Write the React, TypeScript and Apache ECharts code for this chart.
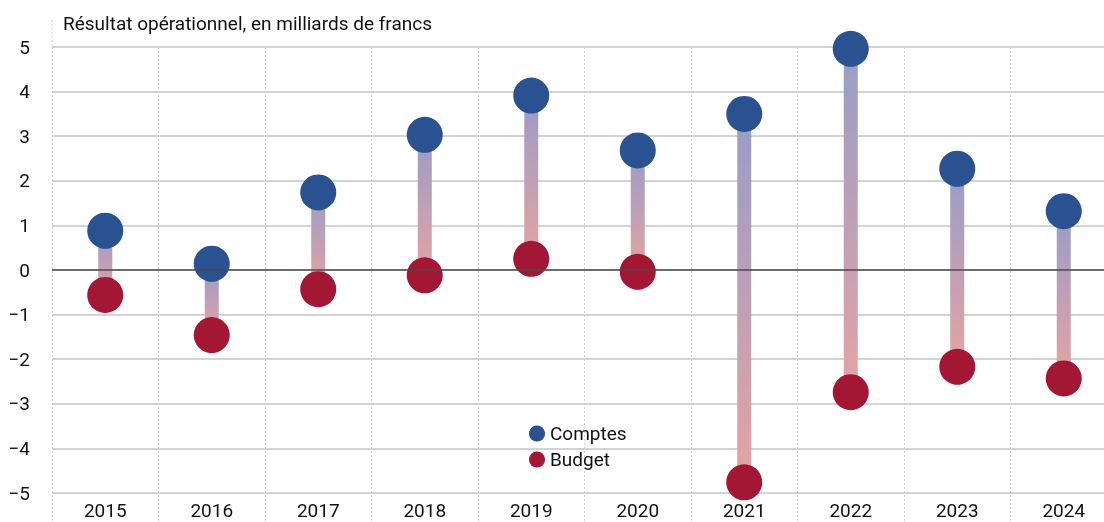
import React, { useEffect, useRef } from "react";
import * as echarts from "echarts";

const years = ["2015", "2016", "2017", "2018", "2019", "2020", "2021", "2022", "2023", "2024"];
const comptes = [0.88, 0.14, 1.74, 3.03, 3.91, 2.68, 3.5, 4.96, 2.27, 1.32];
const budget = [-0.56, -1.46, -0.43, -0.12, 0.25, -0.04, -4.76, -2.74, -2.17, -2.43];
const titleText = "Résultat opérationnel, en milliards de francs";

const FONT = "Roboto, 'Noto Sans', sans-serif";
const TXT = "#111111";

export default function App() {
  const ref = useRef<HTMLDivElement>(null);
  useEffect(() => {
    if (!ref.current) return;
    const chart = echarts.init(ref.current, undefined, { renderer: "svg" });
    const rangeData = years.map((_, i) => [i, comptes[i], budget[i]]);
    chart.setOption({
      animation: false,
      textStyle: { fontFamily: FONT },
      title: {
        text: titleText,
        left: 58,
        top: 9,
        textStyle: { fontFamily: FONT, fontSize: 19, fontWeight: "normal", color: TXT },
      },
      legend: {
        orient: "vertical",
        left: 524,
        top: 419,
        itemGap: 7,
        itemWidth: 16,
        itemHeight: 16,
        icon: "circle",
        data: ["Comptes", "Budget"],
        textStyle: { fontFamily: FONT, fontSize: 19, color: TXT },
      },
      grid: [
        { left: 52, right: 3, top: 47, bottom: 29 },
        { left: 52, right: 3, top: 47, bottom: 0 },
      ],
      xAxis: [
        {
          type: "category",
          gridIndex: 0,
          data: years,
          axisLine: { show: false },
          axisTick: { show: false },
          splitLine: { show: false },
          axisLabel: { fontFamily: FONT, fontSize: 19, color: TXT, margin: 8 },
        },
        {
          type: "category",
          gridIndex: 1,
          data: years,
          axisLine: { show: false },
          axisTick: { show: false },
          axisLabel: { show: false },
          splitLine: { show: true, lineStyle: { color: "#d0d0d0", type: [2, 2], width: 1 } },
        },
      ],
      yAxis: [
        {
          type: "value",
          gridIndex: 0,
          min: -5,
          max: 5,
          interval: 1,
          axisLine: { show: false },
          axisTick: { show: false },
          axisLabel: {
            fontFamily: FONT,
            fontSize: 19,
            color: TXT,
            margin: 22,
            formatter: (v: number) => String(v).replace("-", "\u2212"),
          },
          splitLine: { show: true, lineStyle: { color: "#c4c4c4", width: 1.5 } },
        },
        {
          type: "value",
          gridIndex: 1,
          show: false,
          min: 0,
          max: 1,
          splitLine: { show: false },
        },
      ],
      graphic: [
        {
          type: "line",
          shape: { x1: 52, y1: 20, x2: 52, y2: 47 },
          style: { stroke: "#d0d0d0", lineWidth: 1, lineDash: [2, 2] },
          silent: true,
        },
      ],
      series: [
        {
          type: "line",
          xAxisIndex: 0,
          yAxisIndex: 0,
          data: [],
          silent: true,
          markLine: {
            silent: true,
            symbol: "none",
            label: { show: false },
            lineStyle: { color: "#4a4a4a", width: 1.5, type: "solid" },
            data: [{ yAxis: 0 }],
          },
          z: 1,
        },
        {
          type: "custom",
          xAxisIndex: 0,
          yAxisIndex: 0,
          data: rangeData,
          encode: { x: 0, y: [1, 2] },
          z: 2,
          renderItem: (params: any, api: any) => {
            const x = api.value(0);
            const top = api.coord([x, api.value(1)]);
            const bot = api.coord([x, api.value(2)]);
            const w = 14;
            return {
              type: "rect",
              shape: { x: top[0] - w / 2, y: top[1], width: w, height: bot[1] - top[1] },
              style: {
                fill: new echarts.graphic.LinearGradient(0, 0, 0, 1, [
                  { offset: 0, color: "#989dc7" },
                  { offset: 1, color: "#e5a3a4" },
                ]),
              },
            };
          },
        },
        {
          name: "Comptes",
          type: "scatter",
          xAxisIndex: 0,
          yAxisIndex: 0,
          data: comptes,
          symbol: "circle",
          symbolSize: 36,
          itemStyle: { color: "#2a5291", opacity: 1 },
          z: 4,
        },
        {
          name: "Budget",
          type: "scatter",
          xAxisIndex: 0,
          yAxisIndex: 0,
          data: budget,
          symbol: "circle",
          symbolSize: 36,
          itemStyle: { color: "#a31634", opacity: 1 },
          z: 4,
        },
      ],
    });
    return () => chart.dispose();
  }, []);
  return (
    <div
      ref={ref}
      style={{ position: "fixed", left: 0, top: 0, width: 1120, height: 522 }}
    />
  );
}
